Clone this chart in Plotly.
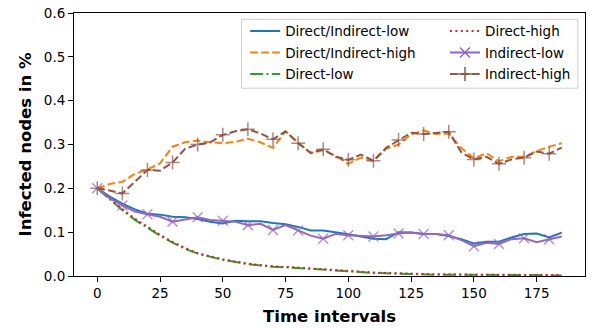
import plotly.graph_objects as go

# ---- data ----
time = list(range(0, 186, 5))

direct_indirect_low = [0.200, 0.181, 0.165, 0.152, 0.142, 0.140, 0.135, 0.134, 0.130, 0.124,
                       0.120, 0.126, 0.125, 0.125, 0.121, 0.118, 0.112, 0.104, 0.104, 0.100,
                       0.095, 0.090, 0.085, 0.084, 0.100, 0.099, 0.096, 0.096, 0.091, 0.084,
                       0.074, 0.078, 0.078, 0.088, 0.096, 0.097, 0.088, 0.099]
direct_indirect_high = [0.200, 0.210, 0.215, 0.233, 0.243, 0.257, 0.295, 0.305, 0.309, 0.305,
                        0.303, 0.306, 0.313, 0.305, 0.292, 0.330, 0.305, 0.280, 0.287, 0.274,
                        0.256, 0.270, 0.262, 0.290, 0.300, 0.323, 0.332, 0.324, 0.325, 0.292,
                        0.268, 0.280, 0.262, 0.272, 0.272, 0.285, 0.295, 0.303]
direct_low = [0.200, 0.174, 0.150, 0.128, 0.109, 0.092, 0.076, 0.062, 0.051, 0.044,
              0.037, 0.032, 0.027, 0.024, 0.021, 0.020, 0.018, 0.017, 0.015, 0.012,
              0.010, 0.008, 0.007, 0.006, 0.005, 0.004, 0.004, 0.003, 0.003, 0.003,
              0.002, 0.002, 0.002, 0.002, 0.002, 0.002, 0.001, 0.001]
direct_high = [0.200, 0.176, 0.153, 0.131, 0.112, 0.094, 0.078, 0.064, 0.052, 0.045,
               0.038, 0.033, 0.028, 0.025, 0.022, 0.021, 0.019, 0.018, 0.016, 0.013,
               0.011, 0.009, 0.008, 0.007, 0.006, 0.005, 0.005, 0.004, 0.004, 0.003,
               0.003, 0.003, 0.003, 0.002, 0.002, 0.002, 0.002, 0.002]
indirect_low = [0.200, 0.177, 0.161, 0.147, 0.141, 0.135, 0.124, 0.129, 0.134, 0.128,
                0.126, 0.124, 0.116, 0.119, 0.105, 0.116, 0.104, 0.092, 0.085, 0.096,
                0.093, 0.091, 0.090, 0.093, 0.097, 0.099, 0.096, 0.096, 0.093, 0.082,
                0.068, 0.076, 0.073, 0.084, 0.086, 0.077, 0.084, 0.090]
indirect_high = [0.200, 0.195, 0.188, 0.215, 0.242, 0.240, 0.259, 0.290, 0.300, 0.305,
                 0.322, 0.330, 0.335, 0.325, 0.312, 0.330, 0.303, 0.281, 0.289, 0.272,
                 0.265, 0.277, 0.263, 0.292, 0.310, 0.327, 0.324, 0.326, 0.329, 0.282,
                 0.266, 0.272, 0.256, 0.266, 0.270, 0.284, 0.279, 0.293]

x_ticks = [0, 25, 50, 75, 100, 125, 150, 175]
y_ticks = [0.0, 0.1, 0.2, 0.3, 0.4, 0.5, 0.6]

FONT = "DejaVu Sans"
LW = 2.0

def marker_sizes(size):
    return [size if t % 10 == 0 else 0 for t in time]

fig = go.Figure()

series = [
    # name, values, color, dash, symbol, legend, rank
    ("Direct/Indirect-low", direct_indirect_low, "#1f77b4", "solid", None, "legend", 1),
    ("Direct/Indirect-high", direct_indirect_high, "#ff7f0e", "7.7px,3.3px", None, "legend", 2),
    ("Direct-low", direct_low, "#2ca02c", "13px,3.3px,2px,3.3px", None, "legend", 3),
    ("Direct-high", direct_high, "#d62728", "2px,3.4px", None, "legend2", 4),
    ("Indirect-low", indirect_low, "#9467bd", "solid", "x-thin", "legend2", 5),
    ("Indirect-high", indirect_high, "#8c564b", "7.7px,3.3px", "cross-thin", "legend2", 6),
]

for name, vals, color, dash, symbol, leg, rank in series:
    if symbol is None:
        fig.add_trace(go.Scatter(
            x=time, y=vals, mode="lines", name=name,
            line=dict(color=color, width=LW, dash=dash),
            showlegend=False,
        ))
        fig.add_trace(go.Scatter(
            x=[None], y=[None], mode="lines", name=name,
            line=dict(color=color, width=LW, dash=dash),
            legend=leg, legendgroup=name, legendrank=rank,
        ))
    else:
        fig.add_trace(go.Scatter(
            x=time, y=vals, mode="lines+markers", name=name,
            line=dict(color=color, width=LW, dash=dash),
            marker=dict(symbol=symbol, size=marker_sizes(10), color=color,
                        line=dict(color=color, width=1.5)),
            showlegend=False,
        ))
        fig.add_trace(go.Scatter(
            x=[None], y=[None], mode="lines+markers", name=name,
            line=dict(color=color, width=LW, dash=dash),
            marker=dict(symbol=symbol, size=10, color=color,
                        line=dict(color=color, width=1.5)),
            legend=leg, legendgroup=name, legendrank=rank,
        ))

# legend frame
fig.add_shape(type="rect", xref="paper", yref="paper",
              x0=0.328, x1=0.986, y0=0.714, y1=0.976,
              line=dict(color="#cccccc", width=1),
              fillcolor="rgba(255,255,255,0.8)", layer="above")

legend_common = dict(
    bgcolor="rgba(0,0,0,0)", borderwidth=0,
    font=dict(family=FONT, size=13.5, color="#000000"),
    yanchor="top", xanchor="left", tracegroupgap=1,
    itemclick=False, itemdoubleclick=False,
)

fig.update_layout(
    width=594, height=328,
    margin=dict(l=74, r=9, t=13, b=52, autoexpand=False),
    paper_bgcolor="white", plot_bgcolor="white",
    hovermode=False,
    font=dict(family=FONT, size=13.5, color="#000000"),
    legend=dict(x=0.335, y=0.99, **legend_common),
    legend2=dict(x=0.726, y=0.99, **legend_common),
    xaxis=dict(
        range=[-9.25, 194.25], tickvals=x_ticks, automargin=False,
        showline=True, mirror=True, linecolor="#000000", linewidth=1,
        ticks="outside", ticklen=5, tickwidth=1, tickcolor="#000000",
        showgrid=False, zeroline=False, ticklabeloverflow="allow",
        tickfont=dict(family=FONT, size=13.5, color="#000000"),
        title=dict(text="<b>Time intervals</b>", standoff=10,
                   font=dict(family=FONT, size=16.5, color="#000000")),
    ),
    yaxis=dict(
        range=[0, 0.6], tickvals=y_ticks, tickformat=".1f", automargin=False,
        showline=True, mirror=True, linecolor="#000000", linewidth=1,
        ticks="outside", ticklen=5, tickwidth=1, tickcolor="#000000",
        showgrid=False, zeroline=False, ticklabeloverflow="allow",
        tickfont=dict(family=FONT, size=13.5, color="#000000"),
        title=dict(text="<b>Infected nodes in %</b>", standoff=8,
                   font=dict(family=FONT, size=16.5, color="#000000")),
    ),
)

# remove the default 8px page margin so the figure fills the window exactly
fig.write_html("out.html", config={"displayModeBar": False},
               post_script="document.body.style.margin='0';")
